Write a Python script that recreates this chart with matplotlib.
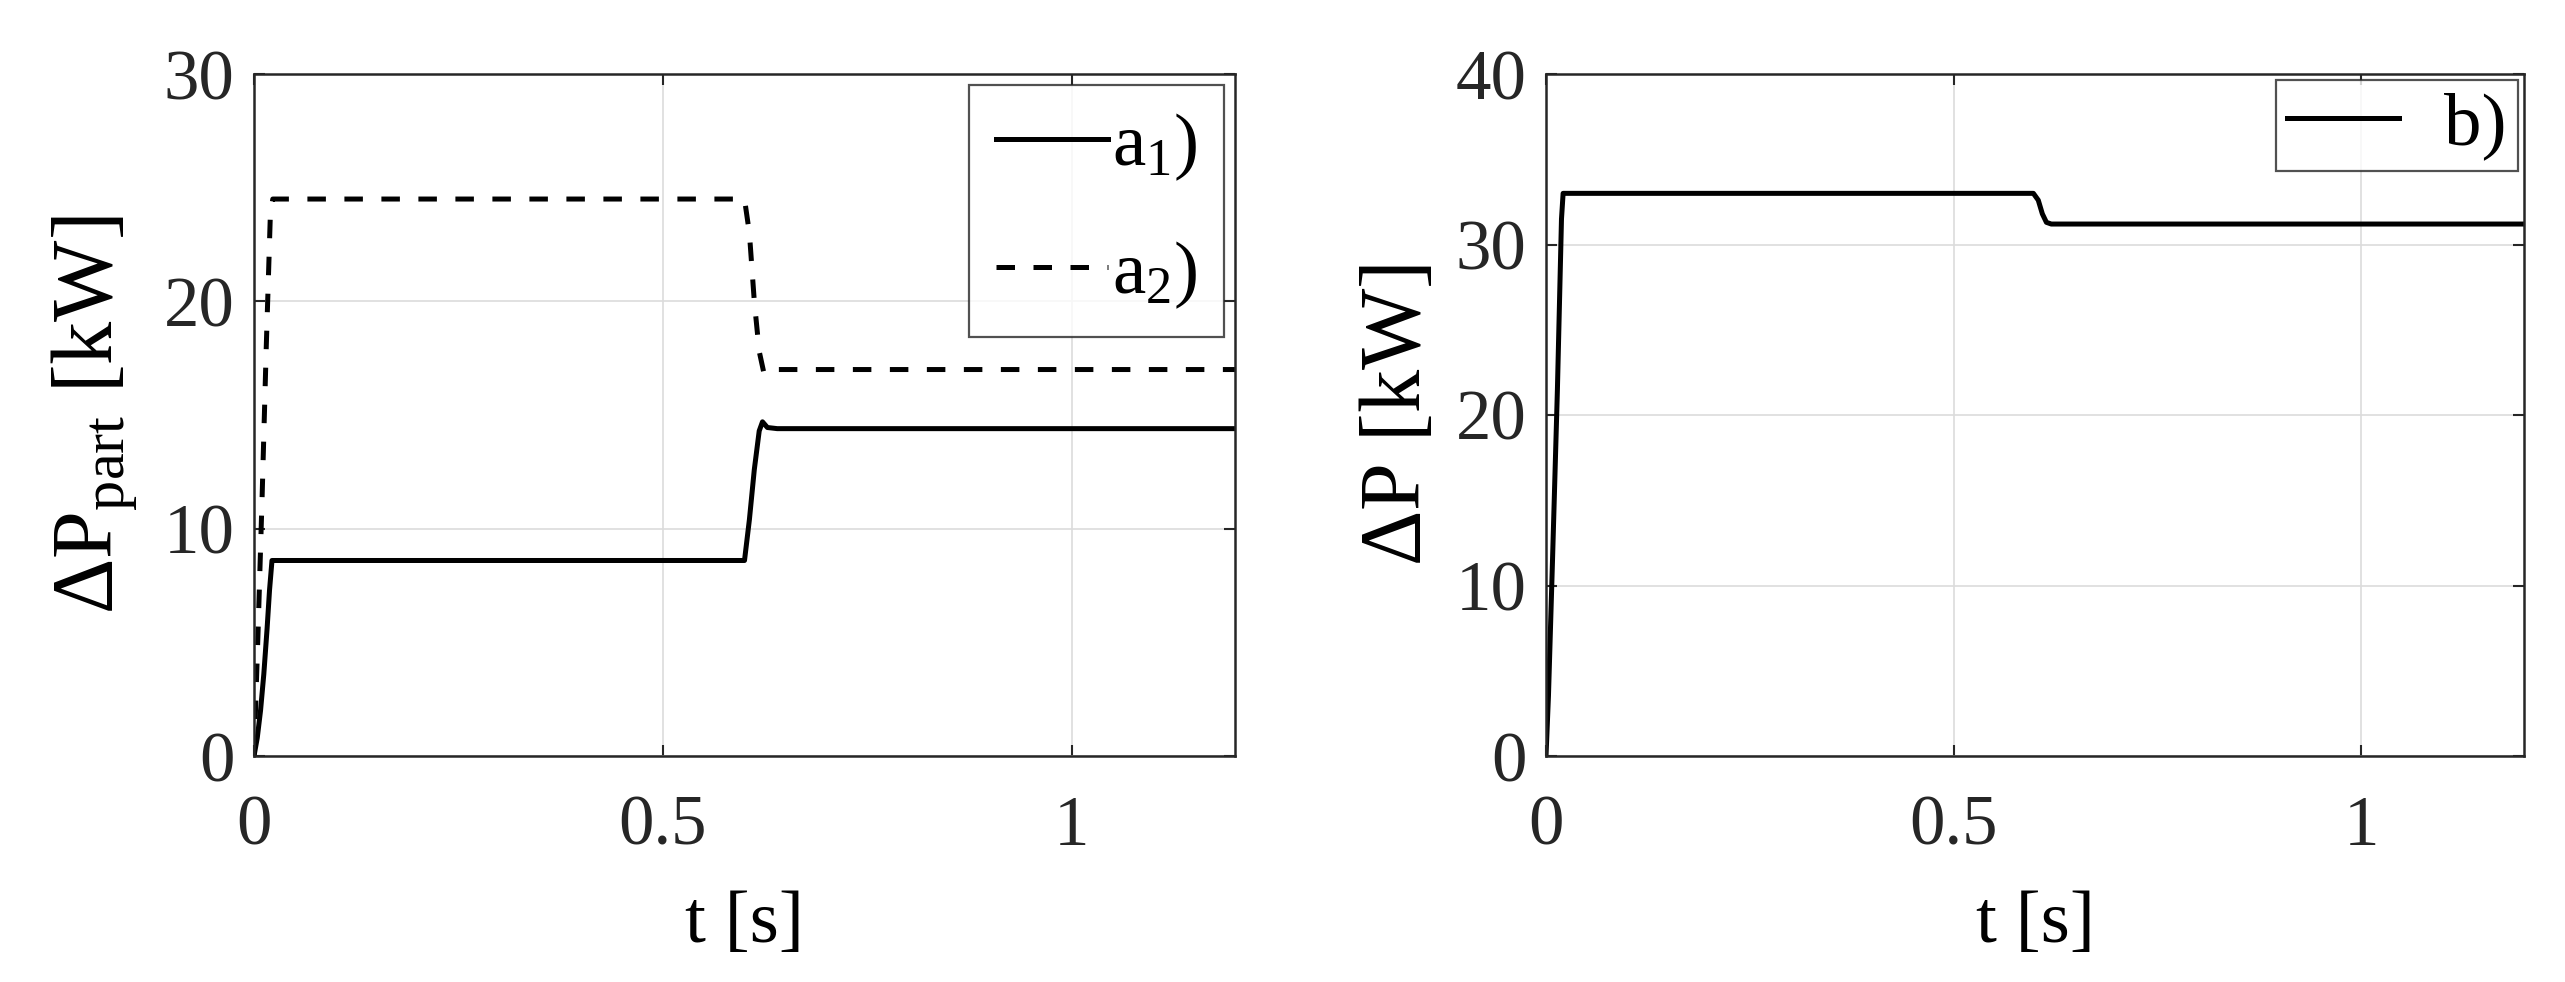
import numpy as np
import matplotlib.pyplot as plt

plt.rcParams['font.family'] = ['Liberation Serif', 'DejaVu Serif']
plt.rcParams['mathtext.fontset'] = 'custom'
plt.rcParams['mathtext.rm'] = 'Liberation Serif'
plt.rcParams['mathtext.it'] = 'Liberation Serif'

# a1) and a2) [kW] vs t [s]
t_a1 = [0, 0.004, 0.008, 0.012, 0.016, 0.019, 0.022, 0.600, 0.606, 0.612, 0.618, 0.622, 0.628, 0.640, 1.2]
p_a1 = [0, 0.8, 2.0, 3.6, 5.6, 7.3, 8.6, 8.6, 10.4, 12.6, 14.3, 14.7, 14.45, 14.4, 14.4]
t_a2 = [0, 0.005, 0.010, 0.015, 0.020, 0.023, 0.600, 0.606, 0.612, 0.618, 0.624, 0.630, 0.640, 1.2]
p_a2 = [0, 5.5, 11.5, 18.0, 23.8, 24.5, 24.5, 23.0, 20.0, 17.8, 16.8, 16.9, 17.0, 17.0]

# b) [kW] vs t [s]
t_b = [0, 0.003, 0.008, 0.014, 0.019, 0.021, 0.598, 0.604, 0.609, 0.614, 0.620, 1.2]
p_b = [0, 3.5, 11.5, 21.5, 31.5, 33.0, 33.0, 32.6, 31.8, 31.3, 31.2, 31.2]

fig = plt.figure(figsize=(25.65, 9.82), dpi=100)
ax1 = fig.add_axes([254 / 2565, 1 - 756 / 982, 981 / 2565, 682 / 982])
ax2 = fig.add_axes([1546 / 2565, 1 - 756 / 982, 978 / 2565, 682 / 982])

tick_fs = 51
label_fs = 54
ylabel_fs = 62
leg_fs = 54
lw = 3.6

ax1.plot(t_a1, p_a1, 'k-', lw=lw, label='a$_1$)')
ax1.plot(t_a2, p_a2, 'k--', lw=lw, label='a$_2$)', dashes=(3.7, 3.7))
ax1.set_ylim(0, 30)
ax1.set_yticks([0, 10, 20, 30])
ax1.set_ylabel(r'$\Delta$P$_{\rm part}$ [kW]', fontsize=ylabel_fs, labelpad=18)

ax2.plot(t_b, p_b, 'k-', lw=lw, label='b)')
ax2.set_ylim(0, 40)
ax2.set_yticks([0, 10, 20, 30, 40])
ax2.set_ylabel(r'$\Delta$P [kW]', fontsize=ylabel_fs, labelpad=12)

for ax in (ax1, ax2):
    ax.set_xlim(0, 1.2)
    ax.set_xticks([0, 0.5, 1])
    ax.set_xticklabels(['0', '0.5', '1'])
    ax.set_xlabel('t [s]', fontsize=label_fs, labelpad=22)
    ax.grid(True, color='#dcdcdc', lw=1.2)
    ax.set_axisbelow(True)
    ax.tick_params(direction='in', labelsize=tick_fs, length=8, width=1.5, top=True, right=True,
                   colors='#262626')
    ax.tick_params(axis='x', pad=28)
    ax.tick_params(axis='y', pad=14)
    for s in ax.spines.values():
        s.set_linewidth(1.8)
        s.set_color('#262626')

leg1 = ax1.legend(loc='upper right', fontsize=leg_fs, fancybox=False, edgecolor='#262626',
                  handlelength=1.5, handletextpad=0.05, borderpad=0.35, labelspacing=0.75, borderaxespad=0.15)
leg1.get_frame().set_linewidth(1.6)
leg2 = ax2.legend(loc='upper right', fontsize=leg_fs, fancybox=False, edgecolor='#262626',
                  handlelength=1.5, handletextpad=0.6, borderpad=0.15, borderaxespad=0.08)
leg2.get_frame().set_linewidth(1.6)

fig.savefig('out.png', dpi=100)
